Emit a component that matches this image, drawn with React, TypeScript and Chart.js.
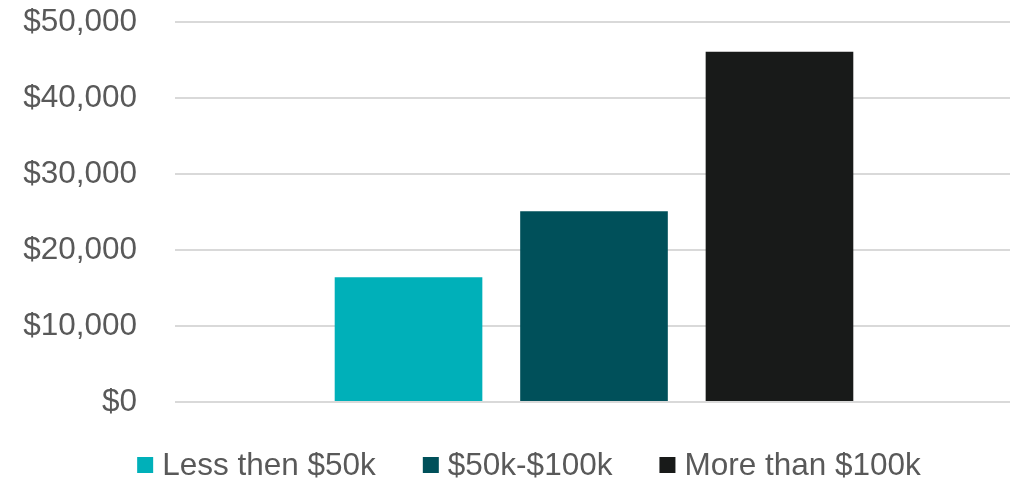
import React, { useEffect, useRef } from "react";
import { Chart, registerables } from "chart.js";

Chart.register(...registerables);

const categories = [""];
const seriesNames = ["Less then $50k", "$50k-$100k", "More than $100k"];
const seriesValues = [[16400], [25100], [46100]];
const seriesColors = ["#00B0B9", "#00505A", "#181A19"];
const yTicks = [0, 10000, 20000, 30000, 40000, 50000];

const FONT = "'Liberation Sans', Arial, sans-serif";
const TEXT_COLOR = "#595959";
const FONT_SIZE = 31.5;

const legendPlugin = {
  id: "customLegend",
  afterDraw(chart: any) {
    const ctx = chart.ctx as CanvasRenderingContext2D;
    const area = chart.chartArea;
    ctx.save();
    ctx.font = `${FONT_SIZE}px ${FONT}`;
    ctx.textBaseline = "middle";
    ctx.textAlign = "left";
    const box = 16;
    const gapText = 9;
    const gapItem = 47;
    const items = chart.data.datasets.map((d: any) => ({
      text: d.label,
      color: d.backgroundColor,
      w: ctx.measureText(d.label).width,
    }));
    const total =
      items.reduce((s: number, it: any) => s + box + gapText + it.w, 0) +
      gapItem * (items.length - 1);
    const center = 521;
    let x = center - total / 2;
    const cy = area.bottom + 63;
    items.forEach((it: any) => {
      ctx.fillStyle = it.color;
      ctx.fillRect(x, cy - box / 2, box, box);
      x += box + gapText;
      ctx.fillStyle = TEXT_COLOR;
      ctx.fillText(it.text, x, cy + 1);
      x += it.w + gapItem;
    });
    ctx.restore();
  },
};

export default function App() {
  const ref = useRef<HTMLCanvasElement | null>(null);
  useEffect(() => {
    if (!ref.current) return;
    const chart = new Chart(ref.current, {
      type: "bar",
      data: {
        labels: categories,
        datasets: seriesNames.map((name, i) => ({
          label: name,
          data: seriesValues[i],
          backgroundColor: seriesColors[i],
          borderWidth: 0,
          categoryPercentage: 0.664,
          barPercentage: 0.796,
        })),
      },
      options: {
        animation: false,
        responsive: false,
        layout: { padding: { left: 15, right: -3, top: 0, bottom: 77 } },
        plugins: {
          legend: { display: false },
          tooltip: { enabled: false },
        },
        scales: {
          x: { display: false },
          y: {
            min: yTicks[0],
            max: yTicks[yTicks.length - 1],
            afterBuildTicks: (scale: any) => {
              scale.ticks = yTicks.map((v) => ({ value: v }));
            },
            afterFit: (scale: any) => {
              scale.width = 152;
              scale.paddingTop = 14;
              scale.paddingBottom = 14;
            },
            border: { display: false },
            grid: { color: "#d9d9d9", lineWidth: 2, drawTicks: false },
            ticks: {
              padding: 38,
              color: TEXT_COLOR,
              font: { family: FONT, size: FONT_SIZE, lineHeight: 0.9 },
              callback: (v: any) => "$" + Number(v).toLocaleString("en-US"),
            },
          },
        },
      },
      plugins: [legendPlugin],
    });
    return () => chart.destroy();
  }, []);
  return (
    <div style={{ width: 1005, height: 471, position: "relative" }}>
      <canvas ref={ref} width={1005} height={471} style={{ display: "block" }} />
    </div>
  );
}
